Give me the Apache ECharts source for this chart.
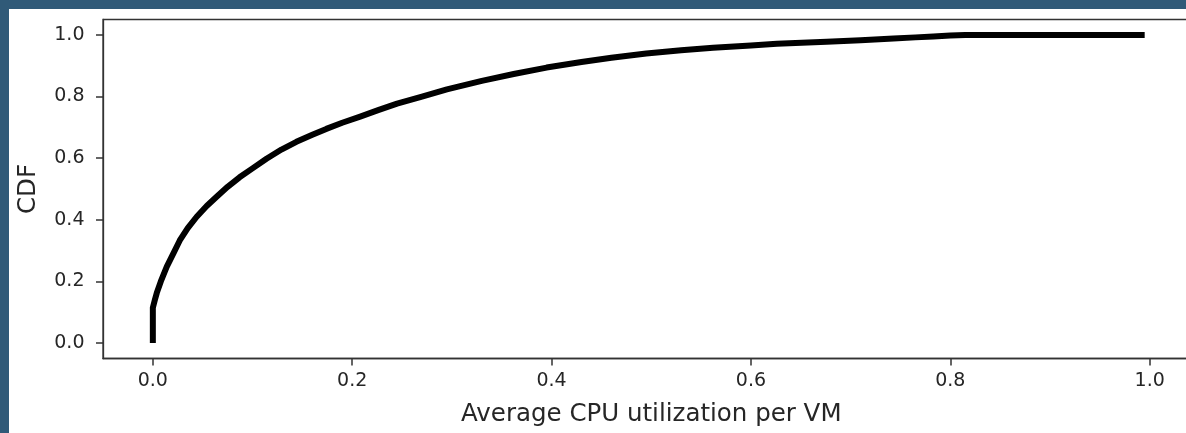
<!DOCTYPE html>
<html>
<head>
<meta charset="utf-8">
<script src="https://cdn.jsdelivr.net/npm/echarts@6/dist/echarts.min.js"></script>
<style>
  html, body { margin: 0; padding: 0; width: 1186px; height: 433px; overflow: hidden; background: #305a78; }
  #chart { position: absolute; left: 9px; top: 9px; width: 1200px; height: 424px; background: #ffffff; }
</style>
</head>
<body>
<div id="chart"></div>
<script>
// Data
const cpuUtil = [0, 0, 0.002, 0.004, 0.008, 0.014, 0.02, 0.027, 0.035, 0.044, 0.054, 0.064, 0.075, 0.087, 0.1, 0.114, 0.129, 0.144, 0.16, 0.174, 0.19, 0.208, 0.226, 0.245, 0.27, 0.295, 0.33, 0.362, 0.395, 0.43, 0.46, 0.495, 0.53, 0.562, 0.6, 0.626, 0.676, 0.71, 0.743, 0.765, 0.783, 0.80, 0.815, 0.9, 0.995];
const cdfValues = [0, 0.115, 0.14, 0.163, 0.2, 0.248, 0.287, 0.333, 0.373, 0.41, 0.445, 0.475, 0.507, 0.538, 0.567, 0.598, 0.628, 0.653, 0.676, 0.695, 0.715, 0.735, 0.756, 0.777, 0.8, 0.823, 0.851, 0.873, 0.894, 0.912, 0.926, 0.94, 0.95, 0.958, 0.966, 0.971, 0.978, 0.983, 0.988, 0.992, 0.995, 0.998, 1.0, 1.0, 1.0];
const xTicks = [0, 0.2, 0.4, 0.6, 0.8, 1.0];
const yTicks = [0, 0.2, 0.4, 0.6, 0.8, 1.0];
const xName = 'Average CPU utilization per VM';
const yName = 'CDF';

const points = cpuUtil.map((x, i) => [x, cdfValues[i]]);
const font = 'DejaVu Sans';
const axisColor = '#333333';

const chart = echarts.init(document.getElementById('chart'));
chart.setOption({
  animation: false,
  grid: {
    left: 94, top: 10.5, bottom: 74.5, right: 9.5,
    containLabel: false, outerBoundsMode: 'none',
    show: true, borderColor: axisColor, borderWidth: 1.3, backgroundColor: 'transparent'
  },
  xAxis: {
    type: 'value', min: -0.05, max: 1.05,
    name: xName, nameLocation: 'middle', nameGap: 44,
    nameTextStyle: { fontFamily: font, fontSize: 24.5, color: '#262626' },
    axisLine: { show: true, onZero: false, lineStyle: { color: axisColor, width: 1.3 } },
    axisTick: { show: true, length: 7, inside: false, customValues: xTicks, lineStyle: { color: axisColor, width: 1.5 } },
    axisLabel: { customValues: xTicks, formatter: v => v.toFixed(1), fontFamily: font, fontSize: 19, color: '#262626', margin: 13 },
    splitLine: { show: false }
  },
  yAxis: {
    type: 'value', min: -0.05, max: 1.05,
    name: yName, nameLocation: 'middle', nameGap: 62, nameRotate: 90,
    nameTextStyle: { fontFamily: font, fontSize: 24.5, color: '#262626' },
    axisLine: { show: true, onZero: false, lineStyle: { color: axisColor, width: 1.3 } },
    axisTick: { show: true, length: 7, inside: false, customValues: yTicks, lineStyle: { color: axisColor, width: 1.5 } },
    axisLabel: { customValues: yTicks, formatter: v => v.toFixed(1), fontFamily: font, fontSize: 19, color: '#262626', margin: 18.5 },
    splitLine: { show: false }
  },
  series: [{
    type: 'line',
    data: points,
    showSymbol: false,
    smooth: false,
    lineStyle: { color: '#000000', width: 6, join: 'round' }
  }]
});
</script>
</body>
</html>
